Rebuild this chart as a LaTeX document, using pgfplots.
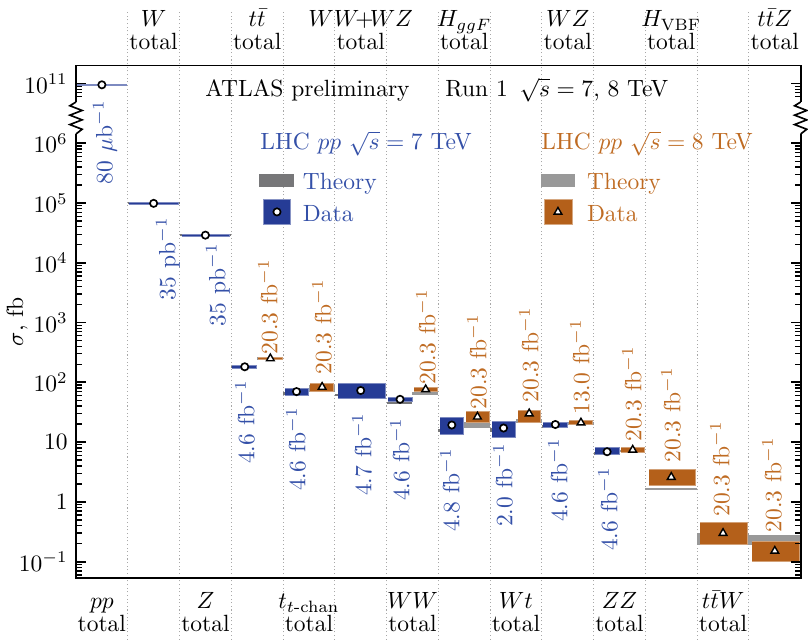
\documentclass[border=0pt]{standalone}
\usepackage{amsmath}
\usepackage{pgfplots}
\pgfplotsset{compat=1.18}

\definecolor{data7}{HTML}{263C96}
\definecolor{text7}{HTML}{3450A8}
\definecolor{data8}{HTML}{B4601A}
\definecolor{text8}{HTML}{BF6B22}
\definecolor{theory7}{HTML}{777779}
\definecolor{theory8}{HTML}{999999}
\definecolor{sepline}{HTML}{A8A8A8}

\pgfplotsset{
  th7/.style={fill=theory7, draw=none, forget plot},
  th8/.style={fill=theory8, draw=none, forget plot},
  dt7/.style={fill=data7, draw=data7!60!white, line width=0.35pt, forget plot},
  dt8/.style={fill=data8, draw=data8!60!white, line width=0.35pt, forget plot},
  mk7/.style={only marks, mark=*, mark size=1.55pt,
    mark options={fill=white, draw=black, line width=0.7pt}, forget plot},
  mk8/.style={only marks, mark=triangle*, mark size=1.9pt,
    mark options={fill=white, draw=black, line width=0.6pt}, forget plot},
}
\tikzset{
  lbl/.style={inner sep=0pt},
  lumi7/.style={inner sep=0pt, rotate=90, anchor=east, text=text7},
  lumi8/.style={inner sep=0pt, rotate=90, anchor=west, text=text8},
}

\begin{document}
\begin{tikzpicture}
\begin{axis}[
  at={(0pt,0pt)}, anchor=south west,
  scale only axis, width=308.38pt, height=217.96pt,
  xmin=0, xmax=14,
  ymode=log, ymin=0.0539, ymax=2.0e7,
  xtick=\empty,
  % above the break the scale is compressed: 10^11 is drawn at the 10^7 level
  ytick={1e-1,1,10,100,1000,1e4,1e5,1e6,1e7},
  yticklabels={$10^{-1}$,$1$,$10$,$10^2$,$10^3$,$10^4$,$10^5$,$10^6$,$10^{11}$},
  minor ytick={0.06,0.07,0.08,0.09,0.2,0.3,0.4,0.5,0.6,0.7,0.8,0.9,
    2,3,4,5,6,7,8,9,20,30,40,50,60,70,80,90,200,300,400,500,600,700,800,900,
    2000,3000,4000,5000,6000,7000,8000,9000,2e4,3e4,4e4,5e4,6e4,7e4,8e4,9e4,
    2e5,3e5,4e5,5e5,6e5,7e5,8e5,9e5,6e6,7e6,8e6,9e6},
  ytick pos=both, yticklabel pos=left, tick align=inside,
  major tick length=4.2pt, minor tick length=2.4pt,
  major tick style={black, line width=0.8pt},
  minor tick style={black, line width=0.55pt},
  axis line style={black, line width=0.8pt},
  axis on top, clip=false,
  ylabel={$\sigma$, fb},
  ylabel style={at={(rel axis cs:-0.0814,0.5)}, anchor=center},
  legend columns=2,
  legend style={at={(rel axis cs:0.2525,0.8001)}, anchor=north west,
    draw=none, fill=none, inner sep=0pt, outer sep=0pt, row sep=1.89pt,
    cells={anchor=base west}, nodes={inner sep=0pt, text depth=1.5pt}},
]

% dotted separators between the processes
\pgfplotsinvokeforeach{0.0714,0.1429,0.2143,0.2857,0.3571,0.4286,0.5,0.5714,0.6429,0.7143,0.7857,0.8571,0.9286}{
  \draw[sepline, line width=0.45pt, dash pattern=on 0.45pt off 1.1pt]
    (rel axis cs:#1,-0.121) -- (rel axis cs:#1,1.1035);
}

% theory predictions, 7 TeV
\addplot[th7] coordinates {(1.00,9.5e4) (2.00,9.5e4) (2.00,1.03e5) (1.00,1.03e5)};
\addplot[th7] coordinates {(2.00,2.79e4) (3.00,2.79e4) (3.00,3.01e4) (2.00,3.01e4)};
\addplot[th7] coordinates {(3.00,172) (3.50,172) (3.50,190) (3.00,190)};
\addplot[th7] coordinates {(4.00,62) (4.50,62) (4.50,68) (4.00,68)};
\addplot[th7] coordinates {(5.00,59) (6.00,59) (6.00,65) (5.00,65)};
\addplot[th7] coordinates {(6.00,43) (6.50,43) (6.50,47.5) (6.00,47.5)};
\addplot[th7] coordinates {(7.00,14.5) (7.50,14.5) (7.50,16.5) (7.00,16.5)};
\addplot[th7] coordinates {(8.00,15) (8.50,15) (8.50,17) (8.00,17)};
\addplot[th7] coordinates {(9.00,17.5) (9.50,17.5) (9.50,19.5) (9.00,19.5)};
\addplot[th7] coordinates {(10.00,6.2) (10.50,6.2) (10.50,6.8) (10.00,6.8)};

% theory predictions, 8 TeV
\addplot[th8] coordinates {(3.50,235) (4.00,235) (4.00,262) (3.50,262)};
\addplot[th8] coordinates {(4.50,68) (5.00,68) (5.00,90) (4.50,90)};
\addplot[th8] coordinates {(6.50,61) (7.00,61) (7.00,69.5) (6.50,69.5)};
\addplot[th8] coordinates {(7.50,17.3) (8.00,17.3) (8.00,21.7) (7.50,21.7)};
\addplot[th8] coordinates {(8.50,21) (9.00,21) (9.00,24) (8.50,24)};
\addplot[th8] coordinates {(9.50,19.5) (10.00,19.5) (10.00,21.5) (9.50,21.5)};
\addplot[th8] coordinates {(10.50,6.9) (11.00,6.9) (11.00,7.4) (10.50,7.4)};
\addplot[th8] coordinates {(11.00,1.58) (12.00,1.58) (12.00,1.71) (11.00,1.71)};
\addplot[th8] coordinates {(12.00,0.19) (13.00,0.19) (13.00,0.30) (12.00,0.30)};
\addplot[th8] coordinates {(13.00,0.19) (14.00,0.19) (14.00,0.28) (13.00,0.28)};

% measurements, 7 TeV
% pp total (9.5e10) is entered on the compressed scale above the break, i.e. /10^4
\addplot[dt7] coordinates {(0.02,9.25e6) (0.97,9.25e6) (0.97,9.75e6) (0.02,9.75e6)};
\addplot[dt7] coordinates {(1.02,9.5e4) (1.97,9.5e4) (1.97,1.03e5) (1.02,1.03e5)};
\addplot[dt7] coordinates {(2.04,2.79e4) (2.97,2.79e4) (2.97,3.01e4) (2.04,3.01e4)};
\addplot[dt7] coordinates {(3.01,174) (3.49,174) (3.49,191) (3.01,191)};
\addplot[dt7] coordinates {(4.03,60) (4.49,60) (4.49,80) (4.03,80)};
\addplot[dt7] coordinates {(5.06,54.5) (5.97,54.5) (5.97,97) (5.06,97)};
\addplot[dt7] coordinates {(6.03,47.5) (6.49,47.5) (6.49,57) (6.03,57)};
\addplot[dt7] coordinates {(7.03,13.3) (7.49,13.3) (7.49,26) (7.03,26)};
\addplot[dt7] coordinates {(8.03,12.2) (8.49,12.2) (8.49,22.6) (8.03,22.6)};
\addplot[dt7] coordinates {(9.03,17.9) (9.49,17.9) (9.49,21.7) (9.03,21.7)};
\addplot[dt7] coordinates {(10.03,6.3) (10.49,6.3) (10.49,8.0) (10.03,8.0)};

% measurements, 8 TeV
\addplot[dt8] coordinates {(3.52,239) (3.98,239) (3.98,265) (3.52,265)};
\addplot[dt8] coordinates {(4.53,71.5) (4.98,71.5) (4.98,97.5) (4.53,97.5)};
\addplot[dt8] coordinates {(6.53,69.5) (6.98,69.5) (6.98,81) (6.53,81)};
\addplot[dt8] coordinates {(7.53,21.7) (7.98,21.7) (7.98,32) (7.53,32)};
\addplot[dt8] coordinates {(8.53,21.7) (8.98,21.7) (8.98,34.5) (8.53,34.5)};
\addplot[dt8] coordinates {(9.53,19.4) (9.98,19.4) (9.98,22.8) (9.53,22.8)};
\addplot[dt8] coordinates {(10.53,6.85) (10.98,6.85) (10.98,8.3) (10.53,8.3)};
\addplot[dt8] coordinates {(11.06,1.92) (11.97,1.92) (11.97,3.55) (11.06,3.55)};
\addplot[dt8] coordinates {(12.06,0.198) (12.97,0.198) (12.97,0.46) (12.06,0.46)};
\addplot[dt8] coordinates {(13.06,0.099) (13.97,0.099) (13.97,0.222) (13.06,0.222)};

% central values
\addplot[mk7] coordinates {(0.5,9.5e6) (1.5,9.87e4) (2.5,2.9e4) (3.26,182) (4.26,70) (5.5,73)
  (6.26,52) (7.26,19.3) (8.26,17.2) (9.26,19.7) (10.26,6.9)};
\addplot[mk8] coordinates {(3.755,250) (4.755,83.5) (6.755,76) (7.755,26.5) (8.755,30)
  (9.755,21.1) (10.755,7.4) (11.5,2.6) (12.5,0.3) (13.5,0.151)};

% integrated luminosities
\node[lumi7] at (axis cs:0.560,5.30e6) {80 $\mu$b$^{-1}$};
\node[lumi7] at (axis cs:1.777,5.84e4) {35 pb$^{-1}$};
\node[lumi7] at (axis cs:2.743,2.15e4) {35 pb$^{-1}$};
\node[lumi7] at (axis cs:3.265,109.5) {4.6 fb$^{-1}$};
\node[lumi7] at (axis cs:4.250,38.7) {4.6 fb$^{-1}$};
\node[lumi7] at (axis cs:5.526,31.9) {4.7 fb$^{-1}$};
\node[lumi7] at (axis cs:6.260,26.3) {4.6 fb$^{-1}$};
\node[lumi7] at (axis cs:7.226,7.98) {4.8 fb$^{-1}$};
\node[lumi7] at (axis cs:8.250,9.67) {2.0 fb$^{-1}$};
\node[lumi7] at (axis cs:9.312,11.73) {4.6 fb$^{-1}$};
\node[lumi7] at (axis cs:10.278,3.84) {4.6 fb$^{-1}$};

\node[lumi8] at (axis cs:3.709,287) {20.3 fb$^{-1}$};
\node[lumi8] at (axis cs:4.753,132.8) {20.3 fb$^{-1}$};
\node[lumi8] at (axis cs:6.762,90.3) {20.3 fb$^{-1}$};
\node[lumi8] at (axis cs:7.747,34.5) {20.3 fb$^{-1}$};
\node[lumi8] at (axis cs:8.752,45.2) {20.3 fb$^{-1}$};
\node[lumi8] at (axis cs:9.737,28.4) {13.0 fb$^{-1}$};
\node[lumi8] at (axis cs:10.742,10.05) {20.3 fb$^{-1}$};
\node[lumi8] at (axis cs:11.495,4.48) {20.3 fb$^{-1}$};
\node[lumi8] at (axis cs:12.442,0.559) {20.3 fb$^{-1}$};
\node[lumi8] at (axis cs:13.447,0.302) {20.3 fb$^{-1}$};

% process names above and below the frame
\node[lbl, anchor=base] at (rel axis cs:0.1071,1.0752) {$W$};
\node[lbl, anchor=base] at (rel axis cs:0.2500,1.0752) {$t\bar{t}$};
\node[lbl, anchor=base] at (rel axis cs:0.3929,1.0752) {$WW\!{+}\!WZ$};
\node[lbl, anchor=base] at (rel axis cs:0.5357,1.0752) {$H_{ggF}$};
\node[lbl, anchor=base] at (rel axis cs:0.6786,1.0752) {$WZ$};
\node[lbl, anchor=base] at (rel axis cs:0.8214,1.0752) {$H_{\mathrm{VBF}}$};
\node[lbl, anchor=base] at (rel axis cs:0.9643,1.0752) {$t\bar{t}Z$};
\pgfplotsinvokeforeach{0.1071,0.2500,0.3929,0.5357,0.6786,0.8214,0.9643}{
  \node[lbl, anchor=base] at (rel axis cs:#1,1.0306) {total};
}
\node[lbl, anchor=base] at (rel axis cs:0.0357,-0.0611) {$pp$};
\node[lbl, anchor=base] at (rel axis cs:0.1786,-0.0611) {$Z$};
\node[lbl, anchor=base] at (rel axis cs:0.3214,-0.0611) {$t_{t\text{-chan}}$};
\node[lbl, anchor=base] at (rel axis cs:0.4643,-0.0611) {$WW$};
\node[lbl, anchor=base] at (rel axis cs:0.6071,-0.0611) {$Wt$};
\node[lbl, anchor=base] at (rel axis cs:0.7500,-0.0611) {$ZZ$};
\node[lbl, anchor=base] at (rel axis cs:0.8929,-0.0611) {$t\bar{t}W$};
\pgfplotsinvokeforeach{0.0357,0.1786,0.3214,0.4643,0.6071,0.7500,0.8929}{
  \node[lbl, anchor=base] at (rel axis cs:#1,-0.1060) {total};
}

% headline and legend titles
\node[lbl, anchor=base west] at (rel axis cs:0.178,0.9395) {ATLAS preliminary};
\node[lbl, anchor=base west] at (rel axis cs:0.5092,0.9395) {Run~1\enspace$\sqrt{s} = 7$, 8~TeV};
\node[lbl, anchor=base west, text=text7] at (rel axis cs:0.2539,0.835) {LHC $pp$ $\sqrt{s} = 7$ TeV};
\node[lbl, anchor=base west, text=text8] at (rel axis cs:0.6417,0.835) {LHC $pp$ $\sqrt{s} = 8$ TeV};

% legend keys (7 TeV block on the left, 8 TeV block on the right)
\addlegendimage{legend image code/.code={
  \path[draw=none, fill=none] (0pt,-1.9pt) rectangle (15.3pt,9.4pt);
  \fill[theory7, draw=none] (0pt,1.28pt) rectangle (15.0pt,6.8pt);}}
\addlegendentry[text=text7]{\makebox[104.7pt][l]{\hspace{3.4pt}Theory}}
\addlegendimage{legend image code/.code={
  \path[draw=none, fill=none] (0pt,-1.9pt) rectangle (15.3pt,9.4pt);
  \fill[theory8, draw=none] (0pt,1.28pt) rectangle (14.5pt,6.8pt);}}
\addlegendentry[text=text8]{\hspace{4.3pt}Theory}
\addlegendimage{legend image code/.code={
  \path[draw=none, fill=none] (0pt,-1.9pt) rectangle (15.3pt,9.4pt);
  \filldraw[fill=data7, draw=data7!55!white, line width=0.4pt] (1.7pt,-1.3pt) rectangle (13.6pt,9.4pt);
  \draw[black, fill=white, line width=0.7pt] plot[mark=*, mark size=1.55pt, only marks] coordinates {(7.66pt,4.05pt)};}}
\addlegendentry[text=text7]{\makebox[104.7pt][l]{\hspace{3.4pt}Data}}
\addlegendimage{legend image code/.code={
  \path[draw=none, fill=none] (0pt,-1.9pt) rectangle (15.3pt,9.4pt);
  \filldraw[fill=data8, draw=data8!55!white, line width=0.4pt] (1.3pt,-1.3pt) rectangle (13.2pt,9.4pt);
  \draw[black, fill=white, line width=0.6pt] plot[mark=triangle*, mark size=1.9pt, only marks] coordinates {(7.23pt,4.05pt)};}}
\addlegendentry[text=text8]{\hspace{4.3pt}Data}

% anchors for the axis break
\coordinate (zzL) at (rel axis cs:0,0.9287);
\coordinate (zzR) at (rel axis cs:1,0.9287);
\end{axis}

% axis break marks on both vertical axes
\foreach \c in {zzL,zzR}{
  \fill[white] ([xshift=-0.7pt,yshift=0.2pt]\c) rectangle ([xshift=0.7pt,yshift=-13.8pt]\c);
  \draw[black, line width=0.7pt, line join=miter]
    (\c) -- ++(-2.6pt,-1.6pt) -- ++(5.2pt,-2pt) -- ++(-5.2pt,-2pt) -- ++(5.2pt,-2pt)
    -- ++(-5.2pt,-2pt) -- ++(5.2pt,-2pt) -- ++(-2.6pt,-2pt);
}

\pgfresetboundingbox
\path[use as bounding box] (-32.34pt,-26.51pt) rectangle (311.49pt,245.83pt);
\end{tikzpicture}
\end{document}
